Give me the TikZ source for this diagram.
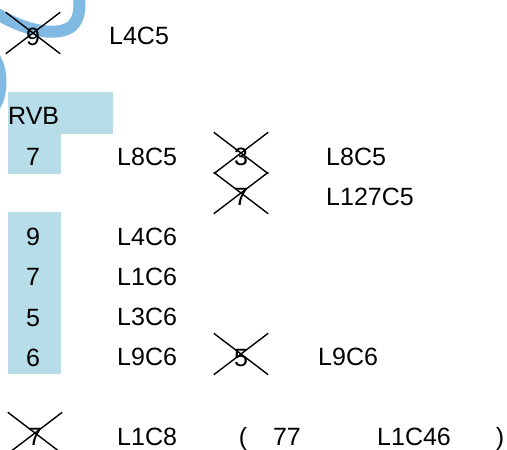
\documentclass[tikz,border=0pt]{standalone}
\usepackage{fontspec}
\setmainfont{Liberation Sans}
\usetikzlibrary{positioning,
shapes.misc % for the struck out values
}
\definecolor{cellblue}{RGB}{183,222,232}
\definecolor{penblue}{RGB}{128,185,226}
\tikzset{%
  node distance=23pt, % gap between two stacked values
  every node/.style={font=\fontsize{25}{29}\selectfont, inner sep=0pt,
    text height=17pt, text depth=0pt},
  num/.style={anchor=center},
  lbl/.style={anchor=west},
  struck/.style={draw, cross out, line width=1.4pt, % value that is crossed out
    minimum width=53pt, minimum height=40pt, text height=25pt}
}

\begin{document}
\begin{tikzpicture}[x=1pt, y=-1pt]
    \useasboundingbox (0,0) rectangle (507,450);

    % pen stroke
    \draw[penblue, line width=12pt] (-6,12) .. controls (30,34) and (60,36) .. (72,26)
      .. controls (80,18) and (80,8) .. (79,-6);
    \fill[penblue] (-1,54) .. controls (9,68) and (9,96) .. (-1,110) -- cycle;

    % shaded cells
    \fill[cellblue] (8,92) rectangle (113,134);
    \fill[cellblue] (8,134) rectangle (61,174);
    \fill[cellblue] (8,212) rectangle (61,374);

    \node[struck] (s9) at (33,33) {9};
    \node[lbl] (l4c5) at (109,36) {L4C5};

    \node[lbl] (rvb) at (8,116) {RVB};
    \node[num] (v7) at (33,157) {7};
    \node[lbl] (l8c5) at (117,157) {L8C5};
    \node[struck] (s3) at (241,153) {3};
    \node[struck] (s7) at (241,193) {7};
    \node[lbl] (l8c5b) at (326,157) {L8C5};
    \node[lbl] (l127c5) at (326,197) {L127C5};

    \node[num] (w9) at (33,237) {9};
    \node[num, below=of w9] (w7) {7};
    \node[num, below=of w7] (w5) {5};
    \node[num, below=of w5] (w6) {6};
    \node[lbl] (l4c6) at (117,237) {L4C6};
    \node[lbl] (l1c6) at (117,277) {L1C6};
    \node[lbl] (l3c6) at (117,317) {L3C6};
    \node[lbl] (l9c6) at (117,357) {L9C6};
    \node[struck] (s5) at (241,354) {5};
    \node[lbl] (l9c6b) at (318,357) {L9C6};

    \node[struck] (s7b) at (35,433) {7};
    \node[lbl] (l1c8) at (117,437) {L1C8};
    \node[num] (po) at (243,437) {(};
    \node[num] (v77) at (287,437) {77};
    \node[lbl] (l1c46) at (377,437) {L1C46};
    \node[num] (pc) at (500,437) {)};
  \end{tikzpicture}
\end{document}
